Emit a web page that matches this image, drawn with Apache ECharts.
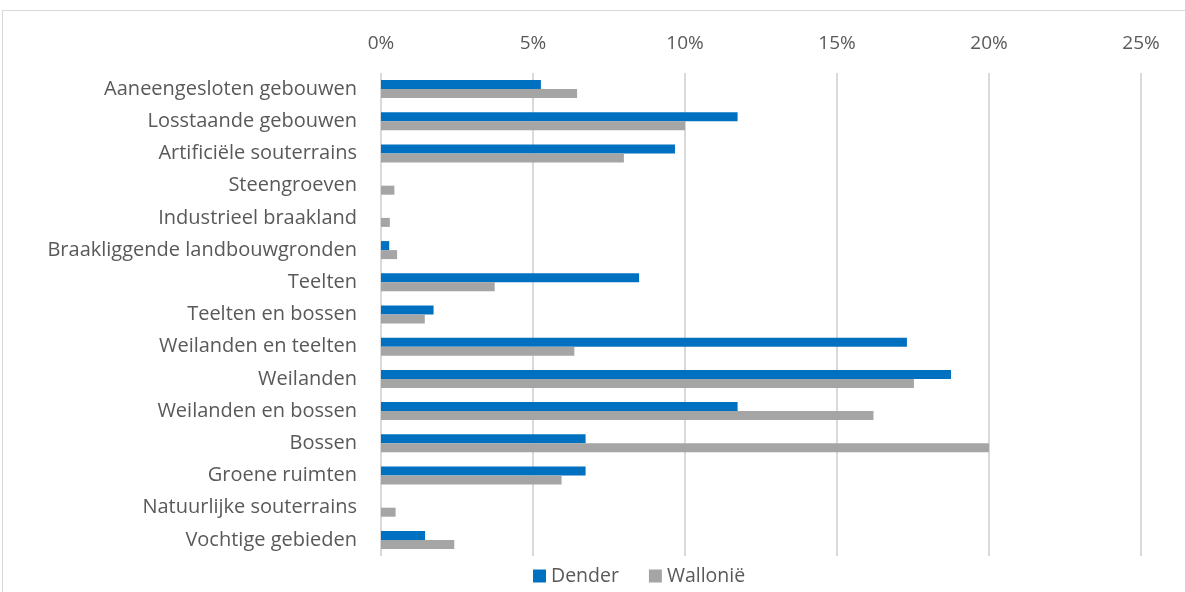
<html>
<head>
<meta charset="utf-8">
<script src="https://cdn.jsdelivr.net/npm/echarts@6/dist/echarts.min.js"></script>
</head>
<body>
<style>
    html, body {
        width: 100%;
        height: 100%;
        margin: 0;
        overflow: hidden;
        background: #fff;
    }
    #frame {
        position: absolute;
        left: 2px;
        top: 10px;
        width: 1190px;
        height: 590px;
        border: 1px solid #d9d9d9;
    }
    #main {
        position: absolute;
        left: 0;
        top: 0;
        width: 1185px;
        height: 592px;
    }
</style>
<div id="frame"></div>
<div id="main"></div>
<script>
var categories = [
    'Aaneengesloten gebouwen',
    'Losstaande gebouwen',
    'Artificiële souterrains',
    'Steengroeven',
    'Industrieel braakland',
    'Braakliggende landbouwgronden',
    'Teelten',
    'Teelten en bossen',
    'Weilanden en teelten',
    'Weilanden',
    'Weilanden en bossen',
    'Bossen',
    'Groene ruimten',
    'Natuurlijke souterrains',
    'Vochtige gebieden'
];
// percentages
var dender = [5.26, 11.73, 9.67, 0, 0, 0.27, 8.49, 1.73, 17.3, 18.75, 11.73, 6.73, 6.73, 0, 1.45];
var wallonie = [6.45, 10.0, 7.99, 0.44, 0.29, 0.53, 3.74, 1.44, 6.36, 17.53, 16.2, 20.0, 5.94, 0.48, 2.41];

var chart = echarts.init(document.getElementById('main'));
var font = 'Open Sans';

chart.setOption({
    animation: false,
    textStyle: { fontFamily: font },
    grid: {
        left: 381,
        right: 44,
        top: 73,
        bottom: 36
    },
    legend: {
        top: 561,
        left: 528,
        itemWidth: 13,
        itemHeight: 13,
        itemGap: 30,
        icon: 'rect',
        textStyle: { color: '#595959', fontSize: 19.5, fontFamily: font },
        data: ['Dender', 'Wallonië']
    },
    xAxis: {
        type: 'value',
        position: 'top',
        min: 0,
        max: 25,
        interval: 5,
        axisLine: { show: false },
        axisTick: { show: false },
        axisLabel: {
            formatter: '{value}%',
            color: '#595959',
            fontSize: 19,
            margin: 20
        },
        splitLine: { lineStyle: { color: '#d9d9d9', width: 2 } }
    },
    yAxis: {
        type: 'category',
        inverse: true,
        data: categories,
        axisLine: { show: false },
        axisTick: { show: false },
        axisLabel: {
            color: '#595959',
            fontSize: 20,
            margin: 24
        }
    },
    series: [
        {
            name: 'Dender',
            type: 'bar',
            barWidth: 9,
            barGap: '0%',
            itemStyle: { color: '#0070c0' },
            data: dender
        },
        {
            name: 'Wallonië',
            type: 'bar',
            barWidth: 9,
            barGap: '0%',
            itemStyle: { color: '#a5a5a5' },
            data: wallonie
        }
    ]
});
</script>
</body>
</html>
